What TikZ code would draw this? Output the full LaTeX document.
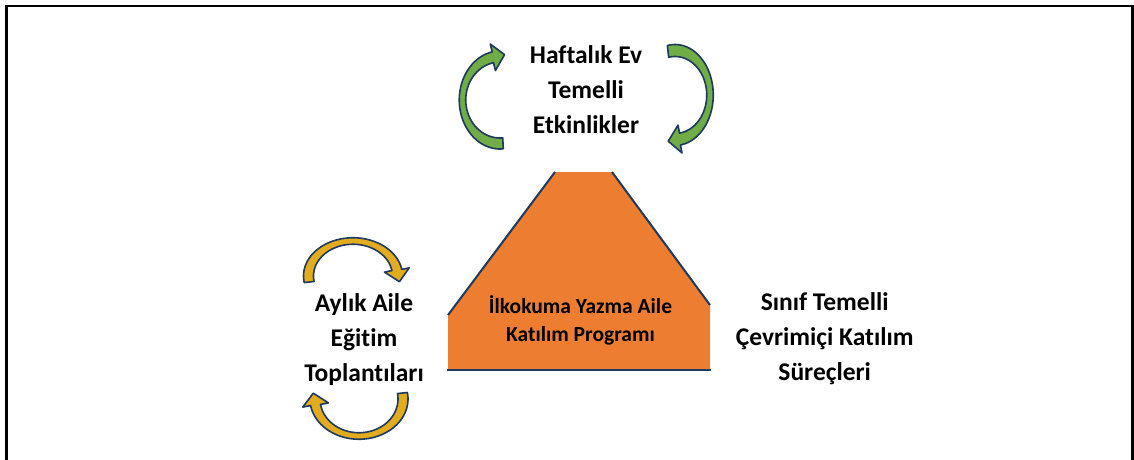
\documentclass[tikz,border=0pt]{standalone}
\usepackage{fontspec}
\setmainfont{Carlito}[Ligatures={NoCommon}]
\definecolor{navy}{RGB}{30,58,95}
\definecolor{agreen}{RGB}{112,173,71}
\definecolor{agold}{RGB}{226,172,30}
\definecolor{aorange}{RGB}{237,125,49}
\tikzset{
  label/.style={align=center, inner sep=0pt, text=black,
    font={\fontsize{25.5}{35}\selectfont\bfseries}},
  inlabel/.style={align=center, inner sep=0pt, text=black,
    font={\fontsize{21.5}{28}\selectfont\bfseries}},
  arrowshape/.style={draw=navy, line width=1.6pt, line join=round},
  edge/.style={draw=navy, line width=2pt}
}
% curved arrow built from \cx,\cy,\rx,\ry,\tx,\ty,\ts,\te,\hh,\hl
\newcommand\carrow[1]{%
  \pgfmathsetmacro\tnx{-\rx*sin(\te)}%
  \pgfmathsetmacro\tny{\ry*cos(\te)}%
  \pgfmathsetmacro\tn{sqrt(\tnx*\tnx+\tny*\tny)}%
  \filldraw[arrowshape, fill=#1]
    plot[domain=\ts:\te, samples=50, variable=\t]
      ({\cx+(\rx+\tx/2)*cos(\t)},{\cy+(\ry+\ty/2)*sin(\t)})
    -- ({\cx+(\rx+\hh)*cos(\te)},{\cy+(\ry+\hh)*sin(\te)})
    -- ({\cx+\rx*cos(\te)+\hl*\tnx/\tn},{\cy+\ry*sin(\te)+\hl*\tny/\tn})
    -- ({\cx+(\rx-\hh)*cos(\te)},{\cy+(\ry-\hh)*sin(\te)})
    -- plot[domain=\te:\ts, samples=50, variable=\t]
      ({\cx+(\rx-\tx/2)*cos(\t)},{\cy+(\ry-\ty/2)*sin(\t)})
    -- cycle;}
\begin{document}
\begin{tikzpicture}[x=1pt,y=-1pt]
\useasboundingbox (0,0) rectangle (1134,460);
\fill[white] (0,0) rectangle (1134,460);
% frame (open at the bottom)
\draw[black, line width=2.2pt] (6.5,461) -- (6.5,6) -- (1132.5,6) -- (1132.5,461);

% central shape
\fill[aorange] (448,315) -- (555,172) -- (612,172) -- (710,305) -- (710,370) -- (448,370) -- cycle;
\draw[edge] (448,315) -- (555,172);
\draw[edge] (612,172) -- (710,305);
\draw[edge] (447,370) -- (711,370);
\node[inlabel] (prog) at (580.5,320.5) {İlkokuma Yazma Aile\\Katılım Programı};

% labels
\node[label] (weekly) at (586,90) {Haftalık Ev\\Temelli\\Etkinlikler};
\node[label] (monthly) at (364,340) {Aylık Aile\\Eğitim\\Toplantıları};
\node[label] (online) at (824.7,338.5) {Sınıf Temelli\\Çevrimiçi Katılım\\Süreçleri};

% green arrows
\def\cx{500}\def\cy{100}\def\rx{37.5}\def\ry{43.5}\def\tx{6.5}\def\ty{11}
\def\ts{85.4}\def\te{259}\def\hh{13.5}\def\hl{12}
\carrow{agreen}
\def\cx{675}\def\cy{95}\def\rx{35}\def\ry{44.5}\def\tx{6.5}\def\ty{12}
\def\ts{-101.5}\def\te{81.8}\def\hh{14}\def\hl{12}
\carrow{agreen}

% gold arrows
\def\cx{353}\def\cy{276}\def\rx{44.5}\def\ry{35}\def\tx{10}\def\ty{6.5}
\def\ts{170.1}\def\te{350.1}\def\hh{12.5}\def\hl{12}
\carrow{agold}
\def\cx{359}\def\cy{399}\def\rx{44}\def\ry{37}\def\tx{10}\def\ty{6.5}
\def\ts{-9.3}\def\te{170.7}\def\hh{13}\def\hl{12}
\carrow{agold}
\end{tikzpicture}
\end{document}
